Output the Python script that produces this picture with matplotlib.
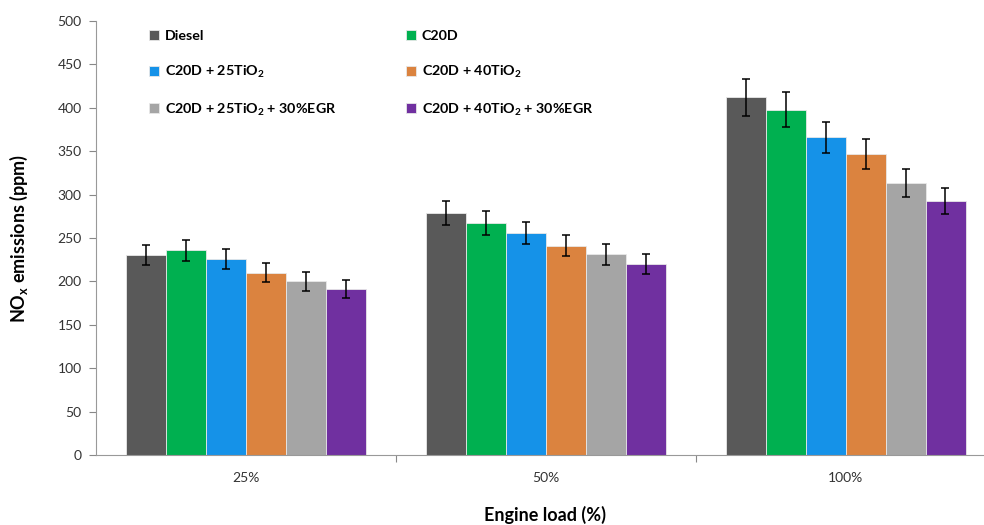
import numpy as np
import matplotlib
matplotlib.use('Agg')
import matplotlib.pyplot as plt

plt.rcParams['font.family'] = ['Lato', 'DejaVu Sans']
plt.rcParams['mathtext.fontset'] = 'custom'
plt.rcParams['mathtext.rm'] = 'Lato:bold'
plt.rcParams['mathtext.it'] = 'Lato:bold'
plt.rcParams['mathtext.bf'] = 'Lato:bold'
plt.rcParams['mathtext.default'] = 'rm'

loads = ['25%', '50%', '100%']
fuels = ['Diesel', 'C20D', r'C20D + 25TiO$_2$', r'C20D + 40TiO$_2$',
         r'C20D + 25TiO$_2$ + 30%EGR', r'C20D + 40TiO$_2$ + 30%EGR']
colors = ['#595959', '#00B050', '#1592E8', '#DB833F', '#A5A5A5', '#7030A0']

diesel     = [230, 279, 412]
c20d       = [236, 267, 398]
c20d_25    = [226, 256, 366]
c20d_40    = [210, 241, 347]
c20d_25egr = [200, 231, 313]
c20d_40egr = [191, 220, 293]

diesel_err     = [11.5, 14, 21]
c20d_err       = [12, 14, 20]
c20d_25_err    = [11.5, 13, 18]
c20d_40_err    = [11, 12, 17]
c20d_25egr_err = [10.5, 12, 16]
c20d_40egr_err = [10.5, 11, 15]

series = [diesel, c20d, c20d_25, c20d_40, c20d_25egr, c20d_40egr]
errors = [diesel_err, c20d_err, c20d_25_err, c20d_40_err, c20d_25egr_err, c20d_40egr_err]

fig = plt.figure(figsize=(9.84, 5.25), dpi=100)
ax = fig.add_axes([95.5 / 984, 70 / 525, 900 / 984, 434 / 525])

x = np.arange(len(loads))
w = 0.8 / 6
bars = []
for i, (vals, errs) in enumerate(zip(series, errors)):
    b = ax.bar(x - 0.4 + w * (i + 0.5), vals, w, color=colors[i], label=fuels[i],
               edgecolor='#E8E8E8', linewidth=0.6,
               yerr=errs, capsize=3, error_kw=dict(ecolor='black', elinewidth=1.1, capthick=1.1))
    bars.append(b)

ax.set_xlim(-0.5, 2.5)
ax.set_ylim(0, 500)
ax.set_yticks(np.arange(0, 501, 50))
ax.set_xticks([0.5, 1.5, 2.5])
ax.set_xticklabels([])
ax.set_xticks(x, minor=True)
ax.set_xticklabels(loads, minor=True)
ax.tick_params(axis='x', which='major', length=5, color='#888888', direction='out')
ax.tick_params(axis='x', which='minor', length=0, pad=12, labelsize=10, labelcolor='#333333')
ax.tick_params(axis='y', length=5, color='#888888', labelsize=10, labelcolor='#333333', pad=5)

for s in ['top', 'right']:
    ax.spines[s].set_visible(False)
for s in ['left', 'bottom']:
    ax.spines[s].set_color('#999999')

ax.set_ylabel(r'NO$_x$ emissions (ppm)', fontsize=13, fontweight='bold', labelpad=20)
ax.set_xlabel('Engine load (%)', fontsize=13, fontweight='bold', labelpad=16)

# legend fills column by column, so reorder to read row-wise like the original
order = [0, 2, 4, 1, 3, 5]
leg = ax.legend([bars[i] for i in order], [fuels[i] for i in order],
                loc='upper left', bbox_to_anchor=(0.045, 1.008), ncol=2, frameon=False,
                prop={'weight': 'bold', 'size': 10.3}, handlelength=0.7, handleheight=0.7,
                handletextpad=0.4, labelspacing=1.5, columnspacing=4.9)

fig.savefig('out.png', dpi=100)
